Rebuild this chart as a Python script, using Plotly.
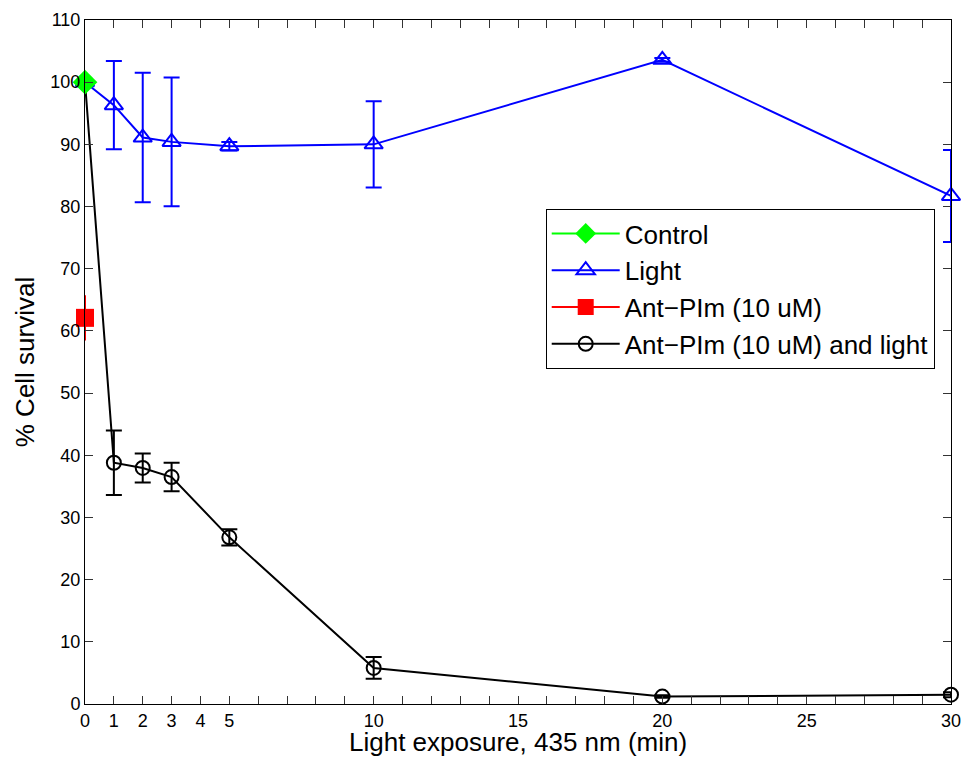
import plotly.graph_objects as go

# ---- data ----
x_time = [0, 1, 2, 3, 5, 10, 20, 30]

control_x = [0]
control_y = [100]

light_y = [100, 96.3, 91.1, 90.4, 89.7, 90.0, 103.6, 81.7]
light_err = [0, 7.1, 10.4, 10.35, 0.7, 6.95, 0.3, 7.4]

antpim_x = [0]
antpim_y = [62.1]
antpim_err = [3.65]

antpim_light_y = [100, 38.8, 37.96, 36.5, 26.8, 5.8, 1.2, 1.5]
antpim_light_err = [0, 5.2, 2.33, 2.3, 1.3, 1.74, 0.2, 0.4]

x_tick_vals = list(range(0, 31))
x_tick_labeled = [0, 1, 2, 3, 4, 5, 10, 15, 20, 25, 30]
x_tick_text = [str(v) if v in x_tick_labeled else "" for v in x_tick_vals]
y_tick_vals = list(range(0, 111, 10))

x_title = "Light exposure, 435 nm (min)"
y_title = "% Cell survival"

FONT = "Liberation Sans, Arial, Helvetica, sans-serif"

fig = go.Figure()

fig.add_trace(go.Scatter(
    x=x_time, y=light_y, name="Light", mode="lines+markers",
    line=dict(color="#0000FF", width=2),
    marker=dict(symbol="triangle-up-open", size=16, color="#0000FF",
                line=dict(width=2, color="#0000FF")),
    error_y=dict(type="data", array=light_err, visible=True,
                 color="#0000FF", thickness=2, width=8),
    cliponaxis=False, legendrank=2,
))

fig.add_trace(go.Scatter(
    x=x_time, y=antpim_light_y, name="Ant\u2212PIm (10 uM) and light",
    mode="lines+markers",
    line=dict(color="#000000", width=2),
    marker=dict(symbol="circle-open", size=14, color="#000000",
                line=dict(width=2, color="#000000")),
    error_y=dict(type="data", array=antpim_light_err, visible=True,
                 color="#000000", thickness=2, width=8),
    cliponaxis=False, legendrank=4,
))

fig.add_trace(go.Scatter(
    x=antpim_x, y=antpim_y, name="Ant\u2212PIm (10 uM)", mode="lines+markers",
    line=dict(color="#FF0000", width=2),
    marker=dict(symbol="square", size=18, color="#FF0000"),
    error_y=dict(type="data", array=antpim_err, visible=True,
                 color="#FF0000", thickness=2, width=0),
    cliponaxis=False, legendrank=3,
))

fig.add_trace(go.Scatter(
    x=control_x, y=control_y, name="Control", mode="lines+markers",
    line=dict(color="#00FF00", width=2),
    marker=dict(symbol="diamond", size=19, color="#00FF00"),
    cliponaxis=False, legendrank=1,
))

fig.add_annotation(
    text=x_title, xref="paper", yref="paper", x=0.5, y=0,
    xanchor="center", yanchor="bottom", yshift=-54, showarrow=False,
    borderpad=0,
    font=dict(family=FONT, size=26, color="black"),
)

fig.update_layout(
    width=966, height=758,
    margin=dict(l=85, r=15, t=20, b=54, autoexpand=False),
    paper_bgcolor="white", plot_bgcolor="white",
    font=dict(family=FONT, size=18, color="black"),
    showlegend=True,
    legend=dict(
        x=0.532, y=0.7237, xanchor="left", yanchor="top",
        bgcolor="white", bordercolor="black", borderwidth=1,
        font=dict(family=FONT, size=26, color="black"),
        itemwidth=68, tracegroupgap=0,
    ),
    xaxis=dict(
        range=[0, 30], tickmode="array", tickvals=x_tick_vals, ticktext=x_tick_text,
        ticks="inside", ticklen=8, tickcolor="#333333", tickwidth=1,
        showline=True, linecolor="black", linewidth=1, mirror="ticks",
        showgrid=False, zeroline=False, automargin=False,
        tickfont=dict(size=18),
    ),
    yaxis=dict(
        range=[0, 110], tickmode="array", tickvals=y_tick_vals,
        ticks="inside", ticklen=8, tickcolor="#333333", tickwidth=1,
        showline=True, linecolor="black", linewidth=1, mirror="ticks",
        showgrid=False, zeroline=False, automargin=False,
        tickfont=dict(size=18),
        title=dict(text=y_title, font=dict(size=26), standoff=8),
    ),
)

fig.write_html("out.html")
